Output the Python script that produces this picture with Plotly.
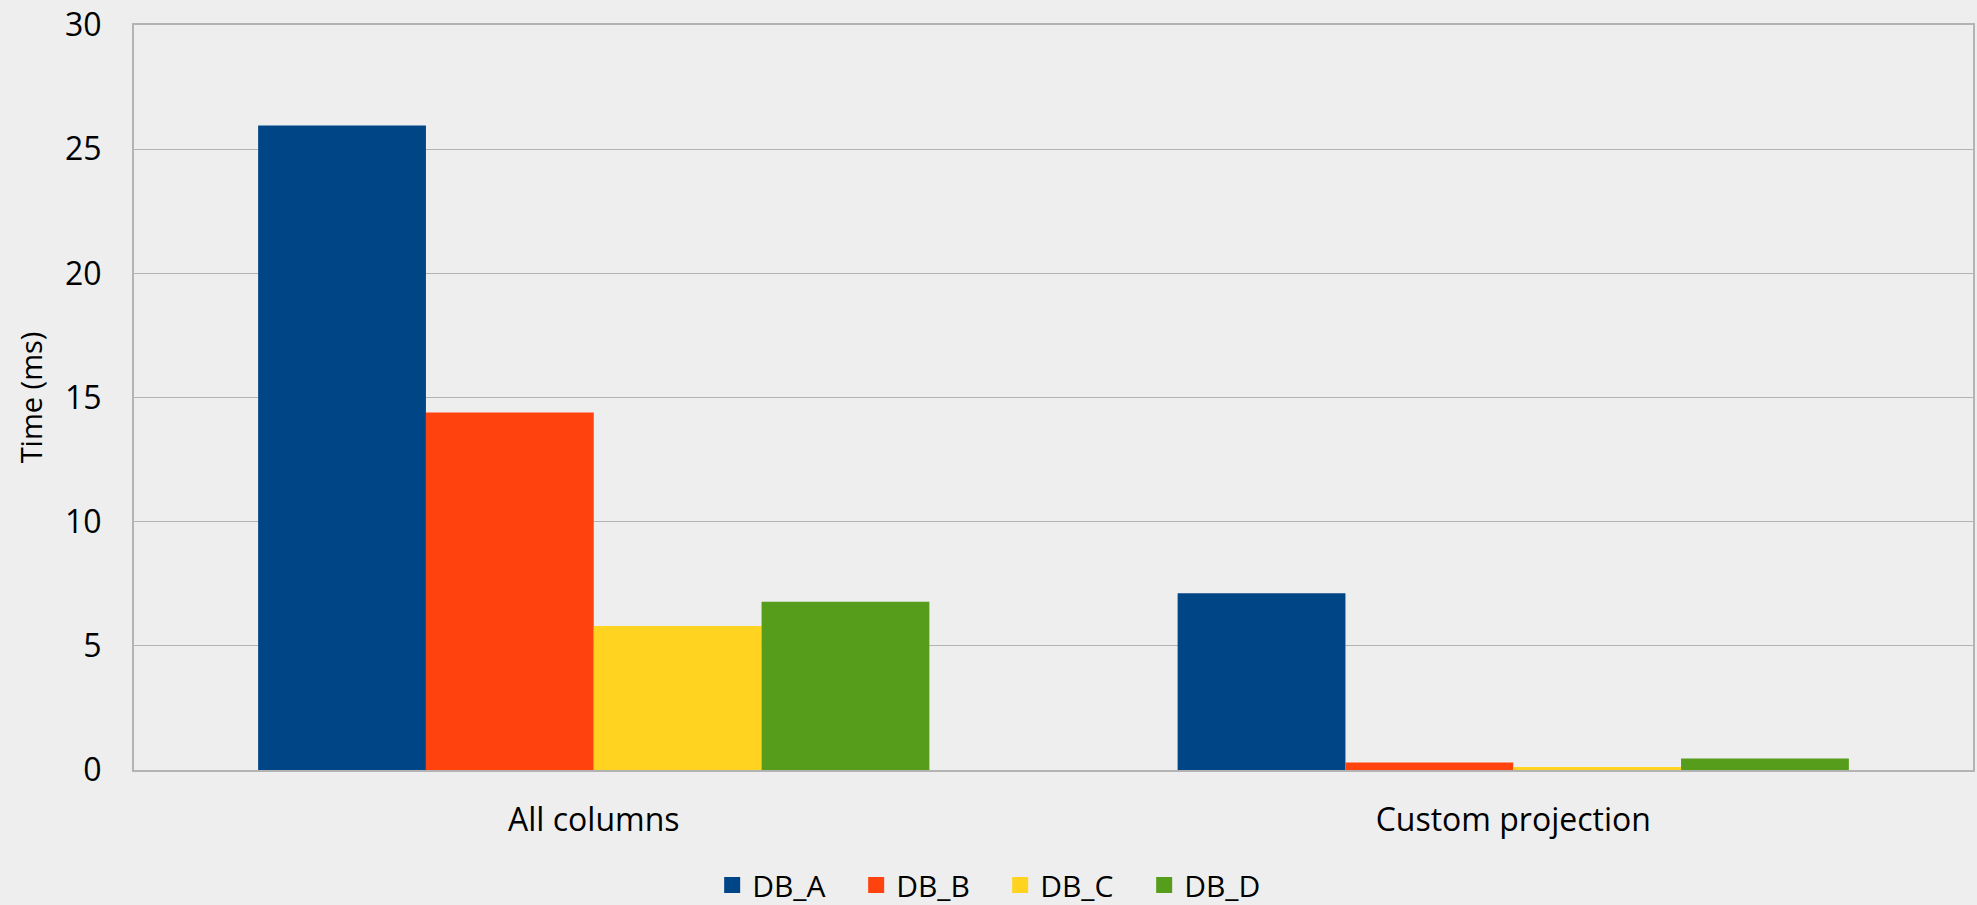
import plotly.graph_objects as go

categories = ["All columns", "Custom projection"]
series_names = ["DB_A", "DB_B", "DB_C", "DB_D"]
db_a = [25.95, 7.12]
db_b = [14.4, 0.3]
db_c = [5.8, 0.12]
db_d = [6.78, 0.46]
colors = ["#004586", "#ff420e", "#ffd320", "#579d1c"]
y_ticks = [0, 5, 10, 15, 20, 25, 30]

FONT = "Open Sans"

fig = go.Figure()
for name, vals, col in zip(series_names, [db_a, db_b, db_c, db_d], colors):
    fig.add_trace(go.Bar(x=categories, y=vals, name=name, showlegend=False,
                         marker=dict(color=col, line=dict(width=0))))
# legend entries with larger square swatches
for name, col in zip(series_names, colors):
    fig.add_trace(go.Scatter(x=[None], y=[None], mode="markers", name=name,
                             marker=dict(symbol="square", size=16, color=col)))

fig.update_layout(
    width=1977, height=905,
    paper_bgcolor="#eeeeee", plot_bgcolor="#eeeeee",
    margin=dict(l=134, r=2, t=22, b=135),
    barmode="group", bargap=0.27, bargroupgap=0,
    font=dict(family=FONT, size=32, color="#000000"),
    showlegend=True,
    legend=dict(orientation="h", x=0.471, xanchor="center", yref="container", y=0.022, yanchor="middle",
                font=dict(size=30), itemwidth=30, entrywidth=99, entrywidthmode="pixels",
                traceorder="normal", bgcolor="rgba(0,0,0,0)"),
)
fig.update_yaxes(range=[0, 30], tickvals=y_ticks, showgrid=True, gridcolor="#b3b3b3", gridwidth=1,
                 showline=True, linecolor="#b3b3b3", linewidth=2, mirror=True, zeroline=False,
                 ticks="", ticklabelstandoff=24, ticklabeloverflow="allow",
                 title=dict(text="Time (ms)", standoff=14, font=dict(size=29)))
fig.update_xaxes(showline=True, linecolor="#b3b3b3", linewidth=2, mirror=True, ticks="",
                 ticklabelstandoff=21)

fig.write_html("out.html")
